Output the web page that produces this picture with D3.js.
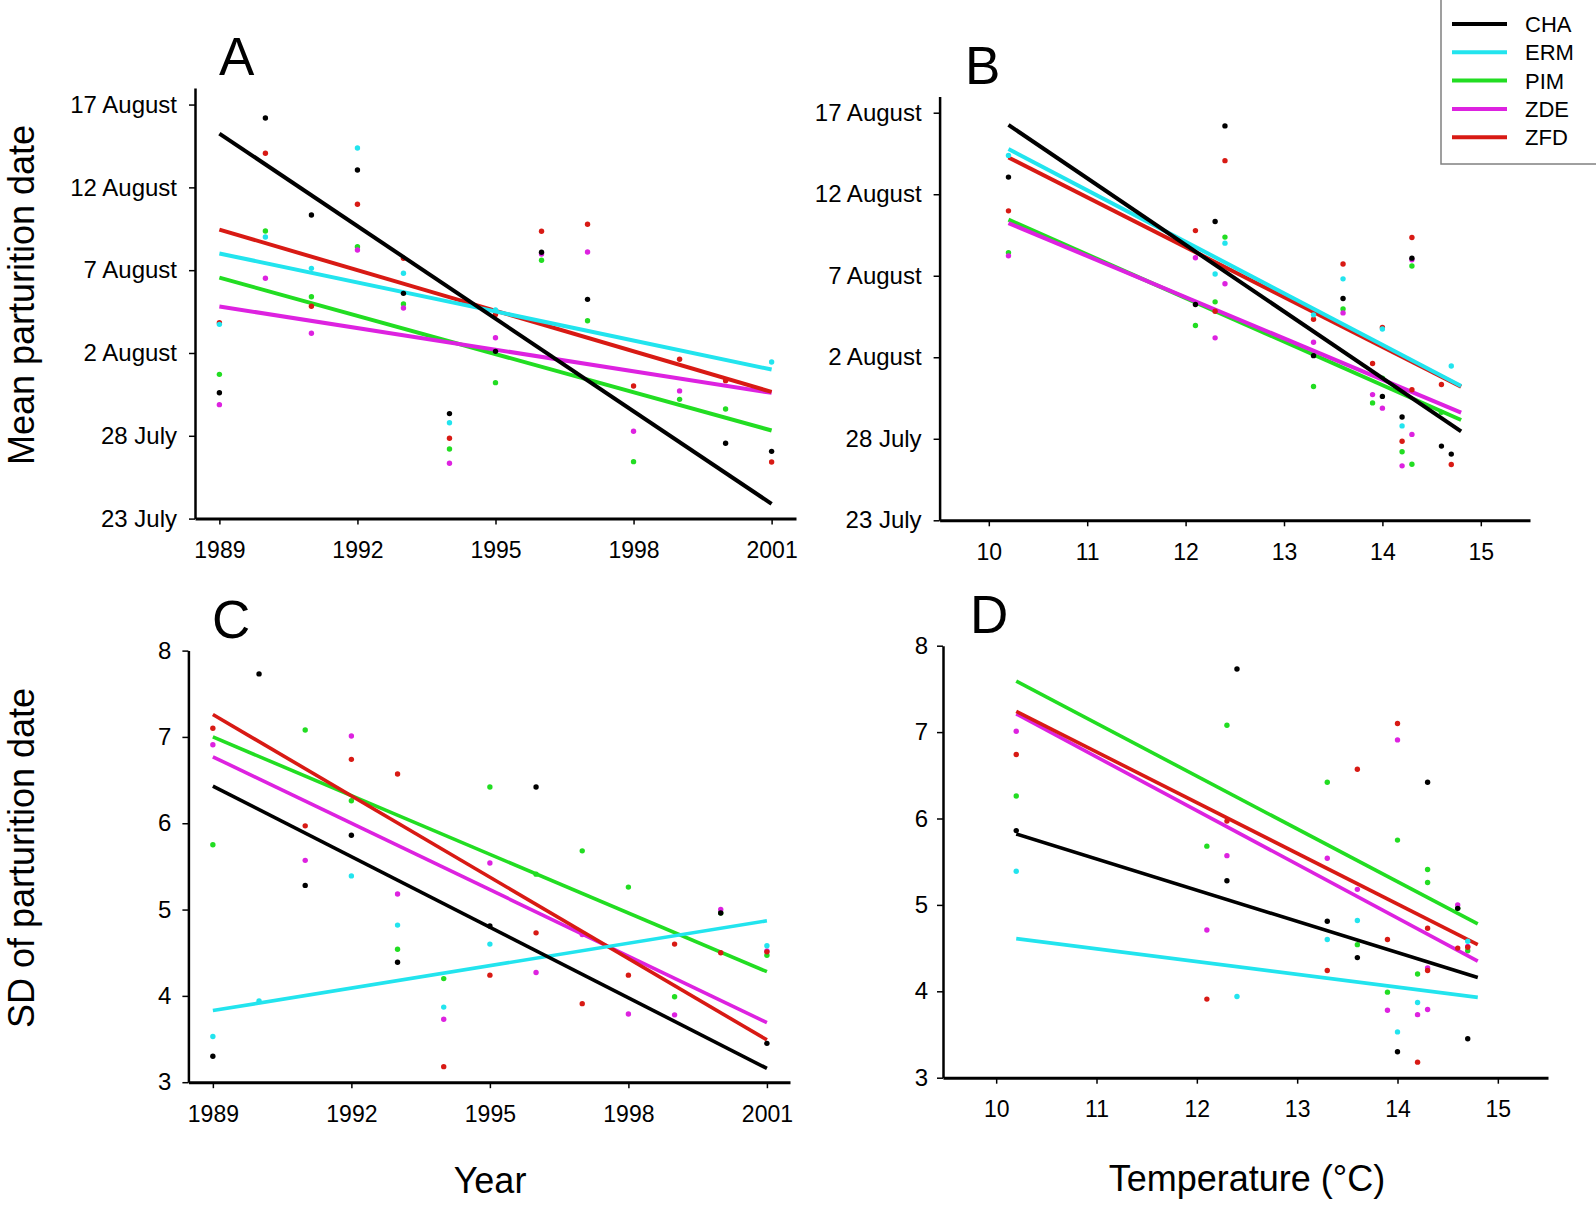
<!DOCTYPE html>
<html>
<head>
<meta charset="utf-8">
<script src="https://cdn.jsdelivr.net/npm/d3@7"></script>
<style>
    body { margin: 0; background: #fff; }
    svg { display: block; font-family: "Liberation Sans", Arial, sans-serif; }
</style>
</head>
<body>
<div id="chart"></div>
<script>
const species = ['CHA', 'ERM', 'PIM', 'ZDE', 'ZFD']
const colors = ['#000000', '#22e4ee', '#22dd22', '#dd22e0', '#d81a14']

const years = [1989, 1990, 1991, 1992, 1993, 1994, 1995, 1996, 1997, 1998, 1999, 2000, 2001]
// mean temperature of each year (°C)
const temperature = [14.0, 12.4, 12.3, 10.2, 13.6, 14.2, 13.3, 14.3, 12.1, 14.3, 13.9, 14.6, 14.7]

// mean parturition date, days after 23 July
const meanCHA = [7.60, 24.19, 18.33, 21.05, 13.60, 6.34, 10.1, 16.08, 13.24, null, null, 4.55, 4.06]
const meanERM = [11.73, 17.0, 15.11, 22.38, 14.81, 5.79, 12.6, null, null, null, null, null, 9.46]
const meanPIM = [8.71, 17.37, 13.40, 16.42, 12.96, 4.20, 8.21, 15.60, 11.95, 3.44, 7.20, 6.62, null]
const meanZDE = [6.88, 14.51, 11.19, 16.22, 12.72, 3.34, 10.92, 15.98, 16.10, 5.27, 7.71, null, null]
const meanZFD = [11.83, 22.06, 12.82, 18.98, 15.72, 4.85, 12.33, 17.35, 17.77, 8.01, 9.62, 8.33, 3.42]

// SD of parturition date (days)
const sdCHA = [3.30, 7.73, 5.28, 5.86, 4.39, null, 4.81, 6.42, null, null, null, 4.96, 3.45]
const sdERM = [3.53, 3.94, null, 5.39, 4.82, 3.87, 4.60, null, null, null, null, null, 4.58]
const sdPIM = [5.75, null, 7.08, 6.26, 4.54, 4.20, 6.42, 5.41, 5.68, 5.26, 3.99, 4.96, 4.47]
const sdZDE = [6.91, null, 5.57, 7.01, 5.18, 3.73, 5.54, 4.27, 4.71, 3.79, 3.78, 5.00, 4.52]
const sdZFD = [7.10, null, 5.97, 6.74, 6.57, 3.18, 4.24, 4.73, 3.91, 4.24, 4.60, 4.50, 4.51]

// regression lines: [value at start, value at end], species order
const fitMeanYear = [[23.25, 0.89], [16.01, 9.00], [14.55, 5.32], [12.81, 7.59], [17.45, 7.65]]
const fitMeanTemp = [[24.25, 5.45], [22.77, 8.24], [18.44, 6.15], [18.23, 6.61], [22.25, 8.20]]
const fitSdYear = [[6.43, 3.16], [3.83, 4.87], [7.00, 4.28], [6.77, 3.69], [7.26, 3.49]]
const fitSdTemp = [[5.82, 4.16], [4.61, 3.93], [7.59, 4.78], [7.21, 4.35], [7.24, 4.54]]
const yearSpan = [1989, 2001]
const tempSpan = [10.2, 14.8]

const dateTicks = [0, 5, 10, 15, 20, 25]
const dateLabels = ['23 July', '28 July', '2 August', '7 August', '12 August', '17 August']
const yearTicks = [1989, 1992, 1995, 1998, 2001]
const tempTicks = [10, 11, 12, 13, 14, 15]
const sdTicks = [3, 4, 5, 6, 7, 8]

const meanSeries = [meanCHA, meanERM, meanPIM, meanZDE, meanZFD]
const sdSeries = [sdCHA, sdERM, sdPIM, sdZDE, sdZFD]

const svg = d3.select('#chart').append('svg')
    .attr('width', 1596)
    .attr('height', 1208)

// drawing order so overlaps look like the original
const drawOrder = [2, 3, 4, 1, 0]

function panel(p) {
    let x = d3.scaleLinear().domain(p.xDom).range([p.left, p.right])
    let y = d3.scaleLinear().domain(p.yDom).range([p.bottom, p.top])

    let g = svg.append('g')

    // y-axis
    let yAxis = d3.axisLeft(y).tickValues(p.yTicks).tickSize(6).tickSizeOuter(0).tickPadding(p.yPad)
        .tickFormat(p.yLabels ? (d, i) => p.yLabels[i] : d3.format('d'))
    g.append('g')
        .attr('transform', 'translate(' + p.left + ',0)')
        .call(yAxis)
        .call(a => {
            a.select('.domain').attr('stroke-width', 2.5)
            a.selectAll('.tick line').attr('stroke-width', 1.5)
            a.selectAll('.tick text').attr('font-size', 24).attr('fill', '#000')
        })

    // x-axis
    g.append('g')
        .attr('transform', 'translate(0,' + p.bottom + ')')
        .call(d3.axisBottom(x).tickValues(p.xTicks).tickSize(6).tickSizeOuter(0).tickPadding(17)
            .tickFormat(d3.format('d')))
        .call(a => {
            a.select('.domain').attr('stroke-width', 3)
            a.selectAll('.tick line').attr('stroke-width', 1.5)
            a.selectAll('.tick text').attr('font-size', 23).attr('fill', '#000')
        })

    drawOrder.forEach(s => {
        let pts = years.map((yr, i) => ({ x: p.xs[i], v: p.series[s][i] }))
            .filter(d => d.v != null)

        g.append('g').selectAll('circle')
            .data(pts)
            .enter().append('circle')
            .attr('cx', d => x(d.x))
            .attr('cy', d => y(d.v))
            .attr('r', 2.7)
            .attr('fill', colors[s])

        let fit = [{ x: p.span[0], v: p.fit[s][0] }, { x: p.span[1], v: p.fit[s][1] }]
        g.append('path')
            .datum(fit)
            .attr('fill', 'none')
            .attr('stroke', colors[s])
            .attr('stroke-width', p.lineW)
            .attr('d', d3.line().x(d => x(d.x)).y(d => y(d.v)))
    })

    g.append('text')
        .attr('x', p.letterX).attr('y', p.letterY)
        .attr('font-size', 53)
        .text(p.letter)
}

panel({ letter: 'A', letterX: 219, letterY: 75,
    left: 195, right: 796, top: 88, bottom: 518.6,
    xDom: [1988.47, 2001.53], yDom: [0, 26],
    xTicks: yearTicks, yTicks: dateTicks, yLabels: dateLabels, yPad: 12, lineW: 4,
    xs: years, series: meanSeries, fit: fitMeanYear, span: yearSpan })

panel({ letter: 'B', letterX: 965, letterY: 84,
    left: 939.6, right: 1530, top: 96.4, bottom: 520.3,
    xDom: [9.5, 15.5], yDom: [0, 26],
    xTicks: tempTicks, yTicks: dateTicks, yLabels: dateLabels, yPad: 12, lineW: 4,
    xs: temperature, series: meanSeries, fit: fitMeanTemp, span: tempSpan })

panel({ letter: 'C', letterX: 212, letterY: 638,
    left: 188.4, right: 790, top: 650.6, bottom: 1082.2,
    xDom: [1988.47, 2001.5], yDom: [3, 8],
    xTicks: yearTicks, yTicks: sdTicks, yPad: 11, lineW: 3.6,
    xs: years, series: sdSeries, fit: fitSdYear, span: yearSpan })

panel({ letter: 'D', letterX: 970, letterY: 633,
    left: 943, right: 1548, top: 645.7, bottom: 1077.7,
    xDom: [9.47, 15.5], yDom: [3, 8],
    xTicks: tempTicks, yTicks: sdTicks, yPad: 9, lineW: 3.6,
    xs: temperature, series: sdSeries, fit: fitSdTemp, span: tempSpan })

// axis titles
svg.append('text')
    .attr('transform', 'translate(34,295) rotate(-90)')
    .attr('text-anchor', 'middle').attr('font-size', 36)
    .text('Mean parturition date')
svg.append('text')
    .attr('transform', 'translate(34,858) rotate(-90)')
    .attr('text-anchor', 'middle').attr('font-size', 36)
    .text('SD of parturition date')
svg.append('text')
    .attr('x', 490).attr('y', 1193)
    .attr('text-anchor', 'middle').attr('font-size', 36)
    .text('Year')
svg.append('text')
    .attr('x', 1247).attr('y', 1191)
    .attr('text-anchor', 'middle').attr('font-size', 36)
    .text('Temperature (°C)')

// legend
let legend = svg.append('g')
legend.append('rect')
    .attr('x', 1441).attr('y', -2)
    .attr('width', 160).attr('height', 166)
    .attr('fill', '#fff').attr('stroke', '#808080').attr('stroke-width', 1.5)
species.forEach((s, i) => {
    let ly = 24 + i * 28.3
    legend.append('line')
        .attr('x1', 1452).attr('x2', 1507)
        .attr('y1', ly).attr('y2', ly)
        .attr('stroke', colors[i]).attr('stroke-width', 4)
    legend.append('text')
        .attr('x', 1525).attr('y', ly + 8)
        .attr('font-size', 22)
        .text(s)
})
</script>
</body>
</html>
